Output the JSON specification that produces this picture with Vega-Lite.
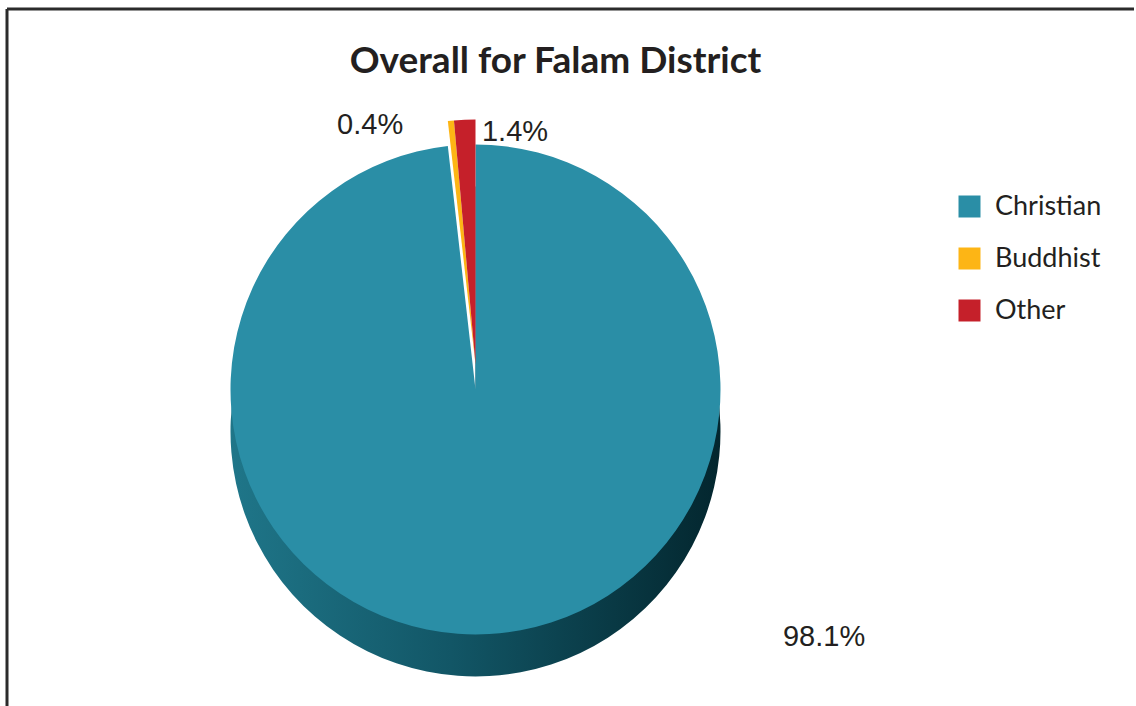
{
  "$schema": "https://vega.github.io/schema/vega-lite/v6.json",
  "width": 1129,
  "height": 697,
  "autosize": {"type": "none"},
  "padding": {"left": 7, "top": 9, "right": 0, "bottom": 0},
  "background": "#ffffff",
  "view": {"stroke": "#2b2b2b", "strokeWidth": 3, "strokeDash": [1127, 1828, 697, 0]},
  "title": {
    "text": "Overall for Falam District",
    "font": "Lato",
    "fontSize": 37,
    "fontWeight": "bold",
    "color": "#231f20",
    "anchor": "middle",
    "frame": "group",
    "orient": "top",
    "baseline": "alphabetic",
    "offset": -64,
    "dy": 37,
    "dx": -16
  },
  "data": {
    "values": [
      {"religion": "Christian", "percent": 98.1, "label": "98.1%", "ord": 1},
      {"religion": "Buddhist", "percent": 0.4, "label": "0.4%", "ord": 2},
      {"religion": "Other", "percent": 1.4, "label": "1.4%", "ord": 3}
    ]
  },
  "encoding": {
    "theta": {"field": "percent", "type": "quantitative", "stack": true},
    "order": {"field": "ord", "type": "quantitative"}
  },
  "layer": [
    {
      "mark": {
        "type": "arc",
        "outerRadius": 245,
        "xOffset": -96,
        "yOffset": 74,
        "fill": {
          "gradient": "linear",
          "x1": 0, "y1": 0, "x2": 1, "y2": 0,
          "stops": [
            {"offset": 0, "color": "#1f7689"},
            {"offset": 0.45, "color": "#125666"},
            {"offset": 1, "color": "#03262e"}
          ]
        }
      },
      "encoding": {
        "opacity": {"condition": {"test": "datum.religion === 'Christian'", "value": 1}, "value": 0}
      }
    },
    {
      "mark": {"type": "arc", "outerRadius": 245, "xOffset": -96, "yOffset": 32},
      "encoding": {
        "color": {
          "field": "religion",
          "type": "nominal",
          "scale": {"domain": ["Christian", "Buddhist", "Other"], "range": ["#2a8ea6", "#fdb515", "#c5202a"]},
          "legend": {
            "orient": "none",
            "legendX": 949,
            "legendY": 184,
            "title": null,
            "symbolType": "square",
            "symbolSize": 484,
            "symbolOpacity": 1,
            "symbolStrokeWidth": 0,
            "labelFont": "Lato",
            "labelFontSize": 27,
            "labelColor": "#231f20",
            "rowPadding": 24,
            "labelOffset": 12,
            "padding": 0
          }
        },
        "opacity": {"condition": {"test": "datum.religion === 'Christian'", "value": 1}, "value": 0}
      }
    },
    {
      "mark": {"type": "arc", "outerRadius": 245, "xOffset": -96, "yOffset": 7},
      "encoding": {
        "color": {"field": "religion", "type": "nominal"},
        "opacity": {"condition": {"test": "datum.religion === 'Christian'", "value": 0}, "value": 1}
      }
    },
    {
      "mark": {"type": "text", "radius": 262, "xOffset": -96, "yOffset": 32, "align": "right", "dx": -46, "dy": -4, "font": "Liberation Sans", "fontSize": 29, "color": "#231f20"},
      "encoding": {
        "text": {"condition": {"test": "datum.religion === 'Buddhist'", "field": "label", "type": "nominal"}, "value": ""}
      }
    },
    {
      "mark": {"type": "text", "radius": 262, "xOffset": -96, "yOffset": 32, "align": "left", "dx": 18, "dy": 4, "font": "Liberation Sans", "fontSize": 29, "color": "#231f20"},
      "encoding": {
        "text": {"condition": {"test": "datum.religion === 'Other'", "field": "label", "type": "nominal"}, "value": ""}
      }
    },
    {
      "mark": {"type": "text", "radius": 275, "xOffset": -96, "yOffset": 32, "align": "center", "dx": 333, "dy": -27, "font": "Liberation Sans", "fontSize": 29, "color": "#231f20"},
      "encoding": {
        "text": {"condition": {"test": "datum.religion === 'Christian'", "field": "label", "type": "nominal"}, "value": ""}
      }
    }
  ]
}
